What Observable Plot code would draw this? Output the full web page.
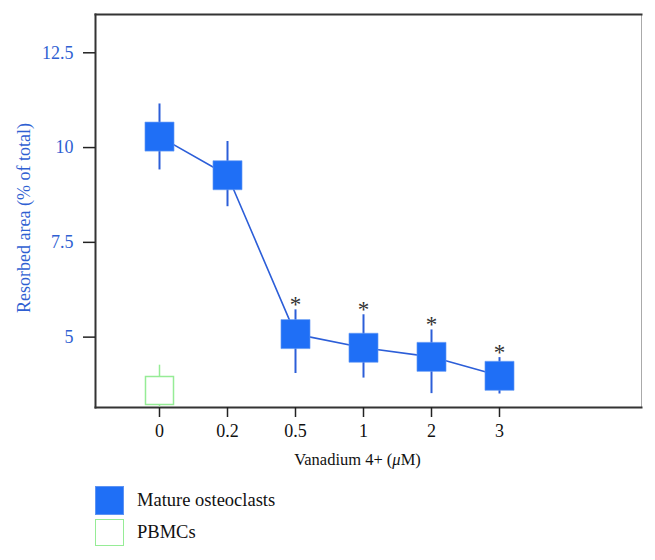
<!DOCTYPE html>
<html>
<head>
<meta charset="utf-8">
<script src="https://cdn.jsdelivr.net/npm/d3@7"></script>
<script src="https://cdn.jsdelivr.net/npm/@observablehq/plot@0.6"></script>
<style>
  html, body { margin: 0; padding: 0; background: #fff; }
  #wrap { position: relative; width: 655px; height: 560px; font-family: "Liberation Serif", serif; }
  #xlabel { position: absolute; left: 0; width: 715px; top: 450px; text-align: center; font-size: 16.5px; color: #111; }
  .leg { position: absolute; left: 95px; display: flex; align-items: center; font-size: 18.5px; color: #111; }
  .sw { width: 29px; height: 29px; box-sizing: border-box; margin-right: 13px; }
</style>
</head>
<body>
<div id="wrap"></div>
<script>
// ---- data ----
const categories = ["0", "0.2", "0.5", "1", "2", "3"];
const osteoMean  = [10.29, 9.27, 5.08, 4.72, 4.48, 3.98];
const osteoLow   = [9.41, 8.44, 4.04, 3.92, 3.51, 3.50];
const osteoHigh  = [11.15, 10.16, 5.72, 5.59, 5.19, 4.46];
const significant = [false, false, true, true, true, true];

const pbmcCategories = ["0"];
const pbmcMean = [3.59];
const pbmcLow  = [3.16];
const pbmcHigh = [4.26];

const yTicks = [5, 7.5, 10, 12.5];
const yDomain = [3.144, 13.51];

const seriesNames = ["Mature osteoclasts", "PBMCs"];
const xTitle = "Vanadium 4+ (";
const yTitle = "Resorbed area (% of total)";

// ---- build tables ----
const osteo = categories.map((c, i) => ({cat: c, mean: osteoMean[i], lo: osteoLow[i], hi: osteoHigh[i], sig: significant[i]}));
const pbmc = pbmcCategories.map((c, i) => ({cat: c, mean: pbmcMean[i], lo: pbmcLow[i], hi: pbmcHigh[i]}));

const BLUE_FILL = "#1f6ff6";
const BLUE_LINE = "#2c5ed8";
const BLUE_TEXT = "#2f5fd2";
const GREEN = "#96ec96";

const chart = Plot.plot({
  width: 655,
  height: 440,
  marginTop: 14,
  marginLeft: 95,
  marginRight: 14,
  marginBottom: 33,
  style: {fontFamily: "'Liberation Serif', serif", fontSize: "18px", color: "#111", background: "#fff"},
  x: {type: "point", domain: categories, range: [158.5, 499.5], padding: 0},
  y: {domain: yDomain},
  marks: [
    Plot.frame({anchor: "right", stroke: "#aaa", strokeWidth: 1}),
    Plot.frame({anchor: "left", stroke: "#333", strokeWidth: 2}),
    Plot.frame({anchor: "top", stroke: "#333", strokeWidth: 2}),
    Plot.frame({anchor: "bottom", stroke: "#333", strokeWidth: 2}),
    Plot.axisY(yTicks, {tickSize: 12, tickPadding: 10, fill: BLUE_TEXT, stroke: "#222", strokeWidth: 1.5,
      fontSize: 18, tickFormat: d => String(d), label: null}),
    Plot.axisX({tickSize: 10, tickPadding: 7, stroke: "#222", strokeWidth: 1.5, fill: "#111", fontSize: 18, label: null}),
    // y-axis title
    Plot.text([yTitle], {frameAnchor: "left", rotate: -90, dx: -71, dy: 7, fontSize: 18, fill: BLUE_TEXT,
      textAnchor: "middle", lineAnchor: "middle"}),
    // connecting line through means
    Plot.line(osteo, {x: "cat", y: "mean", stroke: BLUE_LINE, strokeWidth: 1.6}),
    // error bars
    Plot.ruleX(osteo, {x: "cat", y1: "lo", y2: "hi", stroke: BLUE_LINE, strokeWidth: 2}),
    Plot.ruleX(pbmc, {x: "cat", y1: "lo", y2: "hi", stroke: GREEN, strokeWidth: 1.5}),
    // square markers
    Plot.dot(osteo, {x: "cat", y: "mean", symbol: "square", r: 16.4, fill: BLUE_FILL, stroke: "#6d9ff5", strokeWidth: 0.6}),
    Plot.dot(pbmc, {x: "cat", y: "mean", symbol: "square", r: 15.8, fill: "#fff", stroke: GREEN, strokeWidth: 1.5}),
    // significance stars
    Plot.text(osteo.filter(d => d.sig), {x: "cat", y: "hi", text: () => "*", dy: -5, fontSize: 23, fill: "#333", lineAnchor: "middle"})
  ]
});

const wrap = document.getElementById("wrap");
wrap.appendChild(chart);

const xl = document.createElement("div");
xl.id = "xlabel";
xl.innerHTML = xTitle + "<i>μ</i>M)";
wrap.appendChild(xl);

const legendItems = [
  {name: seriesNames[0], top: 486, style: `background:${BLUE_FILL};border:1px solid #5d93f3;`},
  {name: seriesNames[1], top: 519, style: `background:#fff;border:1.5px solid ${GREEN};height:27px;`}
];
for (const item of legendItems) {
  const row = document.createElement("div");
  row.className = "leg";
  row.style.top = item.top + "px";
  row.innerHTML = `<div class="sw" style="${item.style}"></div><span>${item.name}</span>`;
  wrap.appendChild(row);
}
</script>
</body>
</html>
